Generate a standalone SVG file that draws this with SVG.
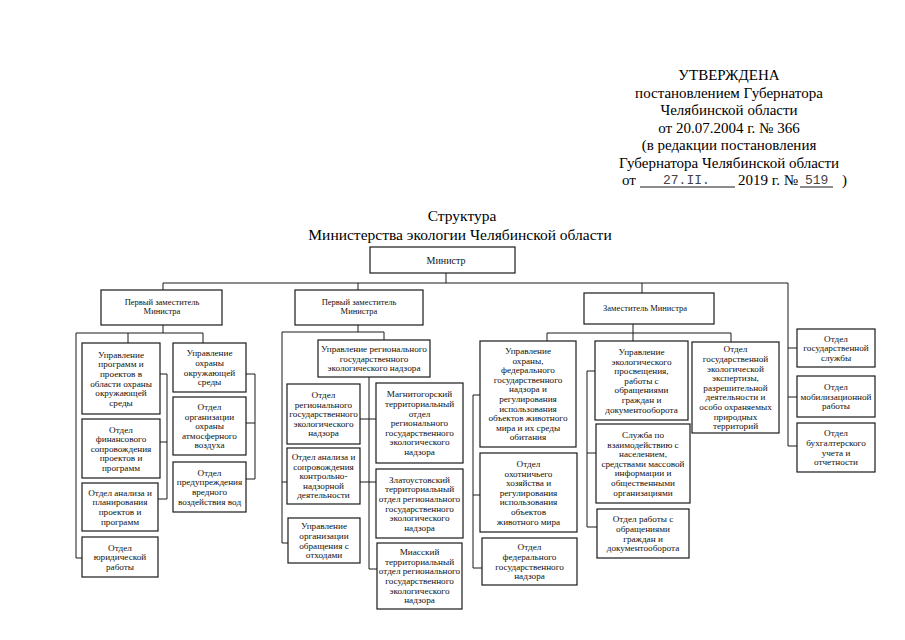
<svg xmlns="http://www.w3.org/2000/svg" width="905" height="640" viewBox="0 0 905 640">
<style>
.bx{fill:#fff;stroke:#1a1a1a;stroke-width:1.2}
.t{font-family:"Liberation Serif","Times New Roman",serif;font-size:9.2px;text-anchor:middle;fill:#111}
.d{font-size:8.5px}
.h{font-family:"Liberation Serif","Times New Roman",serif;font-size:15px;fill:#000}
.m{font-family:"Liberation Mono","Courier New",monospace;font-size:13px;fill:#444}
.c{fill:none;stroke:#1a1a1a;stroke-width:1}
</style>
<rect width="905" height="640" fill="#fff"/>
<g id="header" class="h" text-anchor="middle">
<text x="729" y="80">УТВЕРЖДЕНА</text>
<text x="729" y="97.5">постановлением Губернатора</text>
<text x="729" y="115">Челябинской области</text>
<text x="729" y="132.5">от 20.07.2004 г. № 366</text>
<text x="729" y="150">(в редакции постановления</text>
<text x="729" y="167.5">Губернатора Челябинской области</text>
</g>
<g id="header-last">
<text class="h" x="622" y="185">от</text>
<line class="c" x1="640" y1="187" x2="735" y2="187"/>
<text class="m" x="663" y="183.5">27.II.</text>
<text class="h" x="738" y="185">2019 г. №</text>
<line class="c" x1="800" y1="187" x2="833" y2="187"/>
<text class="m" x="805" y="183.5">519</text>
<text class="h" x="842" y="185">)</text>
</g>
<g id="title" class="h" text-anchor="middle">
<text x="462" y="221" style="font-size:15.5px">Структура</text>
<text x="460" y="240" style="font-size:15.5px">Министерства экологии Челябинской области</text>
</g>
<g id="connectors" class="c">
<path d="M446,273V283M163,283H788V446M163,283V290M358,283V290M642,283V293"/>
<path d="M788,348H797M788,397H797M788,446H797"/>
<path d="M633,324V341M547,333H731V342M547,333V341"/>
<path d="M480,395H473V568H482M473,495H480"/>
<path d="M595,371H587V527H597M587,453H596"/>
<path d="M358,325V332M282,332H384V340M282,332V543H288M282,482H287"/>
<path d="M369,377V569H377M360,419H376M360,482H376"/>
<path d="M163,325V333M76,333H203V343M128,333V343M76,333V558H82"/>
<path d="M160,374H167V499H158M160,442H167"/>
<path d="M246,374H255V479H246M255,423H246"/>
</g>
<g id="minister">
<rect class="bx" x="370" y="247" width="145" height="26"/>
<text class="t" x="446" y="263.5" style="font-size:10px">Министр</text>
</g>
<g id="dep1">
<rect class="bx" x="101" y="290" width="121" height="35"/>
<text class="t d" x="162" y="304.5">Первый заместитель</text>
<text class="t d" x="162" y="314">Министра</text>
</g>
<g id="dep2">
<rect class="bx" x="295" y="290" width="128" height="35"/>
<text class="t d" x="359" y="304.5">Первый заместитель</text>
<text class="t d" x="359" y="314">Министра</text>
</g>
<g id="dep3">
<rect class="bx" x="584" y="293" width="130" height="31"/>
<text class="t d" x="645" y="311">Заместитель Министра</text>
</g>
<g id="gos-sluzhba">
<rect class="bx" x="797" y="329" width="78" height="38"/>
<text class="t" x="836" y="341.6">Отдел</text>
<text class="t" x="836" y="351.2">государственной</text>
<text class="t" x="836" y="360.8">службы</text>
</g>
<g id="mobil">
<rect class="bx" x="797" y="376" width="78" height="41"/>
<text class="t" x="836" y="390">Отдел</text>
<text class="t" x="836" y="399.7">мобилизационной</text>
<text class="t" x="836" y="409.3">работы</text>
</g>
<g id="buh">
<rect class="bx" x="797" y="423" width="78" height="49"/>
<text class="t" x="836" y="436.3">Отдел</text>
<text class="t" x="836" y="445.9">бухгалтерского</text>
<text class="t" x="836" y="455.5">учета и</text>
<text class="t" x="836" y="465.1">отчетности</text>
</g>
<g id="ekspertiza">
<rect class="bx" x="692" y="342" width="87" height="91"/>
<text class="t" x="735.5" y="352.3">Отдел</text>
<text class="t" x="735.5" y="361.9">государственной</text>
<text class="t" x="735.5" y="371.5">экологической</text>
<text class="t" x="735.5" y="381.1">экспертизы,</text>
<text class="t" x="735.5" y="390.7">разрешительной</text>
<text class="t" x="735.5" y="400.3">деятельности и</text>
<text class="t" x="735.5" y="409.9">особо охраняемых</text>
<text class="t" x="735.5" y="419.5">природных</text>
<text class="t" x="735.5" y="429.1">территорий</text>
</g>
<g id="upr-ohrany-fed">
<rect class="bx" x="480" y="341" width="96" height="106"/>
<text class="t" x="528" y="354">Управление</text>
<text class="t" x="528" y="363.6">охраны,</text>
<text class="t" x="528" y="373.2">федерального</text>
<text class="t" x="528" y="382.8">государственного</text>
<text class="t" x="528" y="392.4">надзора и</text>
<text class="t" x="528" y="402">регулирования</text>
<text class="t" x="528" y="411.6">использования</text>
<text class="t" x="528" y="421.2">объектов животного</text>
<text class="t" x="528" y="430.8">мира и их среды</text>
<text class="t" x="528" y="440.4">обитания</text>
</g>
<g id="ohota">
<rect class="bx" x="480" y="453" width="97" height="79"/>
<text class="t" x="528.5" y="466.9">Отдел</text>
<text class="t" x="528.5" y="476.5">охотничьего</text>
<text class="t" x="528.5" y="486.1">хозяйства и</text>
<text class="t" x="528.5" y="495.7">регулирования</text>
<text class="t" x="528.5" y="505.3">использования</text>
<text class="t" x="528.5" y="514.9">объектов</text>
<text class="t" x="528.5" y="524.5">животного мира</text>
</g>
<g id="fed-nadzor">
<rect class="bx" x="482" y="538" width="95" height="47"/>
<text class="t" x="529.5" y="550.3">Отдел</text>
<text class="t" x="529.5" y="559.9">федерального</text>
<text class="t" x="529.5" y="569.5">государственного</text>
<text class="t" x="529.5" y="579.1">надзора</text>
</g>
<g id="upr-prosv">
<rect class="bx" x="595" y="341" width="93" height="79"/>
<text class="t" x="641.5" y="354.9">Управление</text>
<text class="t" x="641.5" y="364.5">экологического</text>
<text class="t" x="641.5" y="374.1">просвещения,</text>
<text class="t" x="641.5" y="383.7">работы с</text>
<text class="t" x="641.5" y="393.3">обращениями</text>
<text class="t" x="641.5" y="402.9">граждан и</text>
<text class="t" x="641.5" y="412.5">документооборота</text>
</g>
<g id="sluzhba-smi">
<rect class="bx" x="596" y="424" width="94" height="79"/>
<text class="t" x="643" y="437.9">Служба по</text>
<text class="t" x="643" y="447.5">взаимодействию с</text>
<text class="t" x="643" y="457.1">населением,</text>
<text class="t" x="643" y="466.7">средствами массовой</text>
<text class="t" x="643" y="476.3">информации и</text>
<text class="t" x="643" y="485.9">общественными</text>
<text class="t" x="643" y="495.5">организациями</text>
</g>
<g id="obrash">
<rect class="bx" x="597" y="509" width="92" height="49"/>
<text class="t" x="643" y="522.3">Отдел работы с</text>
<text class="t" x="643" y="531.9">обращениями</text>
<text class="t" x="643" y="541.5">граждан и</text>
<text class="t" x="643" y="551.1">документооборота</text>
</g>
<g id="upr-reg-nadzor">
<rect class="bx" x="318" y="340" width="112" height="37"/>
<text class="t" x="374" y="352.1">Управление регионального</text>
<text class="t" x="374" y="361.7">государственного</text>
<text class="t" x="374" y="371.3">экологического надзора</text>
</g>
<g id="otd-reg">
<rect class="bx" x="287" y="384" width="73" height="60"/>
<text class="t" x="323.5" y="398">Отдел</text>
<text class="t" x="323.5" y="407.6">регионального</text>
<text class="t" x="323.5" y="417.2">государственного</text>
<text class="t" x="323.5" y="426.8">экологического</text>
<text class="t" x="323.5" y="436.4">надзора</text>
</g>
<g id="otd-analiz-kn">
<rect class="bx" x="287" y="448" width="73" height="56"/>
<text class="t" x="323.5" y="460">Отдел анализа и</text>
<text class="t" x="323.5" y="469.6">сопровождения</text>
<text class="t" x="323.5" y="479.2">контрольно-</text>
<text class="t" x="323.5" y="488.8">надзорной</text>
<text class="t" x="323.5" y="498.4">деятельности</text>
</g>
<g id="othody">
<rect class="bx" x="288" y="518" width="72" height="45"/>
<text class="t" x="324" y="529.3">Управление</text>
<text class="t" x="324" y="538.9">организации</text>
<text class="t" x="324" y="548.5">обращения с</text>
<text class="t" x="324" y="558.1">отходами</text>
</g>
<g id="magnitogorsk">
<rect class="bx" x="376" y="383" width="87" height="80"/>
<text class="t" x="419.5" y="397.4">Магнитогорский</text>
<text class="t" x="419.5" y="407">территориальный</text>
<text class="t" x="419.5" y="416.6">отдел</text>
<text class="t" x="419.5" y="426.2">регионального</text>
<text class="t" x="419.5" y="435.8">государственного</text>
<text class="t" x="419.5" y="445.4">экологического</text>
<text class="t" x="419.5" y="455">надзора</text>
</g>
<g id="zlatoust">
<rect class="bx" x="376" y="469" width="87" height="69"/>
<text class="t" x="419.5" y="482.7">Златоустовский</text>
<text class="t" x="419.5" y="492.3">территориальный</text>
<text class="t" x="419.5" y="501.9">отдел регионального</text>
<text class="t" x="419.5" y="511.5">государственного</text>
<text class="t" x="419.5" y="521.1">экологического</text>
<text class="t" x="419.5" y="530.7">надзора</text>
</g>
<g id="miass">
<rect class="bx" x="377" y="543" width="85" height="66"/>
<text class="t" x="419.5" y="555.2">Миасский</text>
<text class="t" x="419.5" y="564.8">территориальный</text>
<text class="t" x="419.5" y="574.4">отдел регионального</text>
<text class="t" x="419.5" y="584">государственного</text>
<text class="t" x="419.5" y="593.6">экологического</text>
<text class="t" x="419.5" y="603.2">надзора</text>
</g>
<g id="upr-programm">
<rect class="bx" x="82" y="343" width="78" height="71"/>
<text class="t" x="121" y="357.7">Управление</text>
<text class="t" x="121" y="367.3">программ и</text>
<text class="t" x="121" y="376.9">проектов в</text>
<text class="t" x="121" y="386.5">области охраны</text>
<text class="t" x="121" y="396.1">окружающей</text>
<text class="t" x="121" y="405.7">среды</text>
</g>
<g id="otd-fin">
<rect class="bx" x="82" y="419" width="78" height="59"/>
<text class="t" x="121" y="432.5">Отдел</text>
<text class="t" x="121" y="442.1">финансового</text>
<text class="t" x="121" y="451.7">сопровождения</text>
<text class="t" x="121" y="461.3">проектов и</text>
<text class="t" x="121" y="470.9">программ</text>
</g>
<g id="otd-analiz-plan">
<rect class="bx" x="82" y="483" width="76" height="48"/>
<text class="t" x="120" y="495.8">Отдел анализа и</text>
<text class="t" x="120" y="505.4">планирования</text>
<text class="t" x="120" y="515">проектов и</text>
<text class="t" x="120" y="524.6">программ</text>
</g>
<g id="otd-yurid">
<rect class="bx" x="82" y="537" width="76" height="40"/>
<text class="t" x="120" y="550.6">Отдел</text>
<text class="t" x="120" y="560.2">юридической</text>
<text class="t" x="120" y="569.8">работы</text>
</g>
<g id="upr-ohrany-okr">
<rect class="bx" x="173" y="343" width="73" height="49"/>
<text class="t" x="209.5" y="356.3">Управление</text>
<text class="t" x="209.5" y="365.9">охраны</text>
<text class="t" x="209.5" y="375.5">окружающей</text>
<text class="t" x="209.5" y="385.1">среды</text>
</g>
<g id="otd-atmo">
<rect class="bx" x="173" y="397" width="73" height="58"/>
<text class="t" x="209.5" y="410">Отдел</text>
<text class="t" x="209.5" y="419.6">организации</text>
<text class="t" x="209.5" y="429.2">охраны</text>
<text class="t" x="209.5" y="438.8">атмосферного</text>
<text class="t" x="209.5" y="448.4">воздуха</text>
</g>
<g id="otd-vod">
<rect class="bx" x="173" y="462" width="73" height="50"/>
<text class="t" x="209.5" y="475.8">Отдел</text>
<text class="t" x="209.5" y="485.4">предупреждения</text>
<text class="t" x="209.5" y="495">вредного</text>
<text class="t" x="209.5" y="504.6">воздействия вод</text>
</g>
</svg>
